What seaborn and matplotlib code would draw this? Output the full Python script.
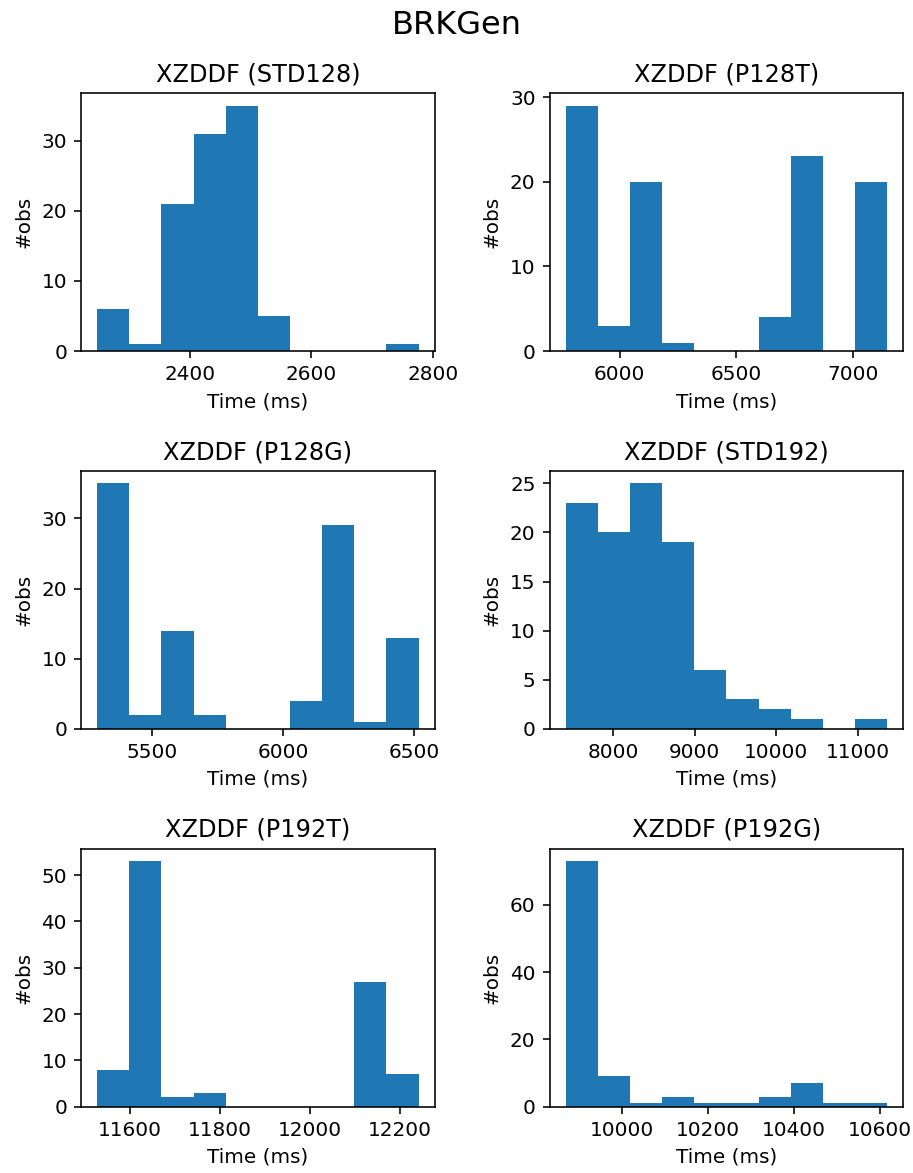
import numpy as np
import pandas as pd
import matplotlib
matplotlib.use("Agg")
import matplotlib.pyplot as plt
import seaborn as sns

# ---- data ----
titles = ["XZDDF (STD128)", "XZDDF (P128T)", "XZDDF (P128G)",
          "XZDDF (STD192)", "XZDDF (P192T)", "XZDDF (P192G)"]
bin_lo = [2248, 5769, 5289, 7422, 11527, 9868]
bin_hi = [2776, 7148, 6518, 11360, 12241, 10618]
counts_std128 = [6, 1, 21, 31, 35, 5, 0, 0, 0, 1]
counts_p128t = [29, 3, 20, 1, 0, 0, 4, 23, 0, 20]
counts_p128g = [35, 2, 14, 2, 0, 0, 4, 29, 1, 13]
counts_std192 = [23, 20, 25, 19, 6, 3, 2, 1, 0, 1]
counts_p192t = [8, 53, 2, 3, 0, 0, 0, 0, 27, 7]
counts_p192g = [73, 9, 1, 3, 1, 1, 3, 7, 1, 1]
all_counts = [counts_std128, counts_p128t, counts_p128g,
              counts_std192, counts_p192t, counts_p192g]

# tick labels
x_ticks = [[2400, 2600, 2800], [6000, 6500, 7000], [5500, 6000, 6500],
           [8000, 9000, 10000, 11000], [11600, 11800, 12000, 12200],
           [10000, 10200, 10400, 10600]]
y_ticks = [[0, 10, 20, 30], [0, 10, 20, 30], [0, 10, 20, 30],
           [0, 5, 10, 15, 20, 25], [0, 10, 20, 30, 40, 50], [0, 20, 40, 60]]

DPI = 144
fig, axes = plt.subplots(3, 2, figsize=(913 / DPI, 1173 / DPI), dpi=DPI)
fig.subplots_adjust(left=81 / 913, right=903.3 / 913,
                    top=1 - 93.3 / 1173, bottom=1 - 1106.7 / 1173,
                    wspace=0.325, hspace=0.465)

for ax, title, lo, hi, cnt, xt, yt in zip(axes.flat, titles, bin_lo, bin_hi,
                                          all_counts, x_ticks, y_ticks):
    nb = len(cnt)
    edges = np.linspace(lo, hi, nb + 1)
    centers = (edges[:-1] + edges[1:]) / 2
    df = pd.DataFrame({"t": centers, "n": cnt})
    sns.histplot(data=df, x="t", weights="n", bins=nb, binrange=(lo, hi), ax=ax,
                 color="#1f77b4", alpha=1, linewidth=0, edgecolor="none")
    ax.set_xticks(xt)
    ax.set_yticks(yt)
    ax.set_title(title, fontsize=12)
    ax.set_xlabel("Time (ms)", fontsize=10)
    ax.set_ylabel("#obs", fontsize=10)
    ax.tick_params(labelsize=10)

fig.suptitle("BRKGen", fontsize=16, y=1 - 34 / 1173, va="baseline")
fig.savefig("out.png", dpi=DPI)
